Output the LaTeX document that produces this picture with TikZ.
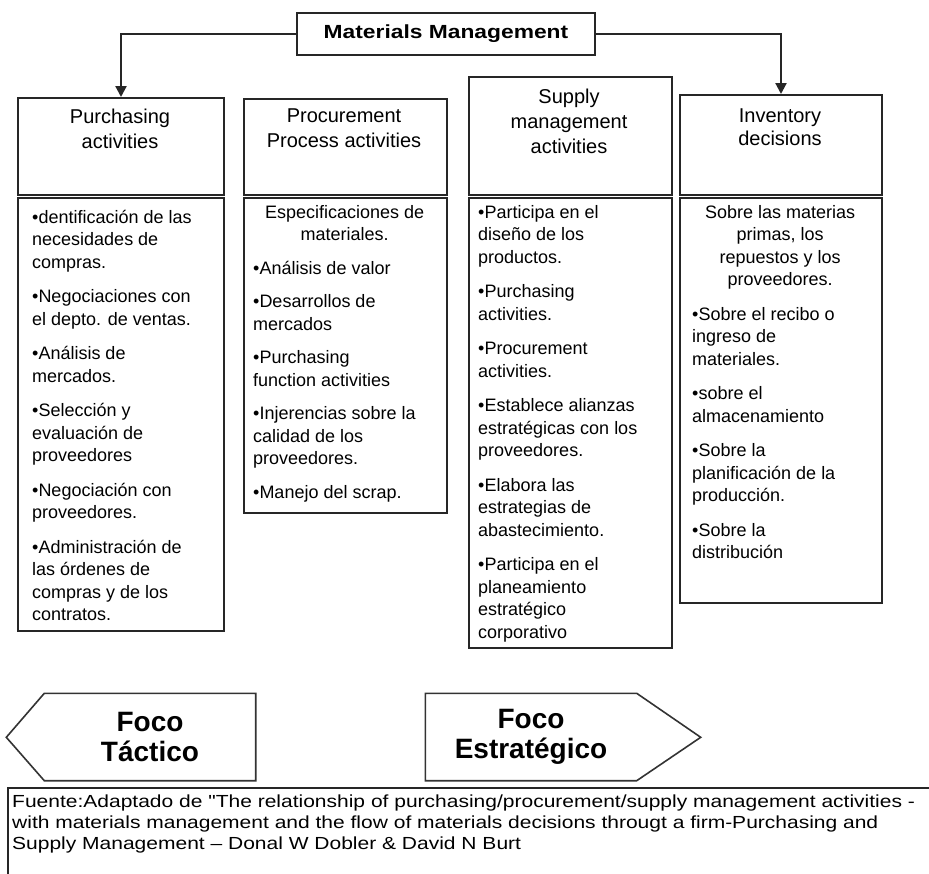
\documentclass[tikz,border=0pt]{standalone}
\usepackage{fontspec}
\setmainfont{Liberation Sans}
\newfontfamily\widefont{Liberation Sans}[FakeStretch=1.2]
\usetikzlibrary{arrows.meta}

\begin{document}
\begin{tikzpicture}[x=1pt,y=-1pt]
\tikzstyle{every node}=[font=\fontsize{18}{22.5}\selectfont, inner sep=0pt]
\tikzstyle{box}=[draw=black!85, line width=2pt, rectangle, anchor=north west]
\tikzstyle{head}=[anchor=north, align=center, font=\fontsize{20}{25}\selectfont]
\tikzstyle{body}=[anchor=north west, align=left]
\tikzstyle{link}=[draw=black!85, line width=2.2pt, -{Triangle[length=11pt,width=11pt]}]
\tikzstyle{focus}=[minimum width=211pt, minimum height=87pt, align=center, font=\fontsize{28}{30}\bfseries\selectfont]
\tikzstyle{focusline}=[draw=black!80, line width=1.6pt, line join=miter]

\useasboundingbox (0,0) rectangle (929,873);
\clip (0,0) rectangle (929,873);

\node[box, minimum width=298pt, minimum height=42pt, font=\widefont\fontsize{19}{24}\bfseries\selectfont] (mm) at (296,12) {Materials Management};

\node[box, minimum width=206pt, minimum height=97pt] (purchHead) at (17,97) {};
\node[box, minimum width=203pt, minimum height=96pt] (procHead) at (243,98) {};
\node[box, minimum width=203pt, minimum height=118pt] (supplyHead) at (468,76) {};
\node[box, minimum width=202pt, minimum height=100pt] (invHead) at (679,94) {};

\node[head] (purchTitle) at (120,109) {Purchasing\\activities};
\node[head] (procTitle) at (344,109) {Procurement\\Process activities};
\node[head] (supplyTitle) at (569,89) {Supply\\management\\activities};
\node[head, font=\fontsize{20}{22.5}\selectfont] (invTitle) at (780,109) {Inventory\\decisions};

\node[box, minimum width=206pt, minimum height=433pt] (purchBox) at (17,197) {};
\node[box, minimum width=203pt, minimum height=315pt] (procBox) at (243,197) {};
\node[box, minimum width=203pt, minimum height=450pt] (supplyBox) at (468,197) {};
\node[box, minimum width=202pt, minimum height=405pt] (invBox) at (679,197) {};

\node[body] (purchText) at (32,210) {%
•dentificación de las\\
necesidades de\\
compras.\\[12pt]
•Negociaciones con\\
el depto. de ventas.\\[12pt]
•Análisis de\\
mercados.\\[12pt]
•Selección y\\
evaluación de\\
proveedores\\[12pt]
•Negociación con\\
proveedores.\\[12pt]
•Administración de\\
las órdenes de\\
compras y de los\\
contratos.};

\node[body] (procText) at (253,205) {%
\makebox[183pt]{Especificaciones de}\\
\makebox[183pt]{materiales.}\\[11pt]
•Análisis de valor\\[11pt]
•Desarrollos de\\
mercados\\[11pt]
•Purchasing\\
function activities\\[11pt]
•Injerencias sobre la\\
calidad de los\\
proveedores.\\[11pt]
•Manejo del scrap.};

\node[body] (supplyText) at (478,205) {%
•Participa en el\\
diseño de los\\
productos.\\[12pt]
•Purchasing\\
activities.\\[12pt]
•Procurement\\
activities.\\[12pt]
•Establece alianzas\\
estratégicas con los\\
proveedores.\\[12pt]
•Elabora las\\
estrategias de\\
abastecimiento.\\[12pt]
•Participa en el\\
planeamiento\\
estratégico\\
corporativo};

\node[body] (invText) at (692,205) {%
\makebox[176pt]{Sobre las materias}\\
\makebox[176pt]{primas, los}\\
\makebox[176pt]{repuestos y los}\\
\makebox[176pt]{proveedores.}\\[12pt]
•Sobre el recibo o\\
ingreso de\\
materiales.\\[12pt]
•sobre el\\
almacenamiento\\[12pt]
•Sobre la\\
planificación de la\\
producción.\\[12pt]
•Sobre la\\
distribución};

\draw[link] (mm.west) -| (purchHead.north);
\draw[link] (mm.east) -| (invHead.north);

\node[focus] (tactic) at (150,737) {Foco\\Táctico};
\draw[focusline] (tactic.north east) -- (tactic.north west) -- ++(-38,44) -- (tactic.south west) -- (tactic.south east) -- cycle;

\node[focus] (strategic) at (531,737) {Foco\\Estratégico};
\draw[focusline] (strategic.north west) -- (strategic.north east) -- ++(64,44) -- (strategic.south east) -- (strategic.south west) -- cycle;

\node[box, minimum width=940pt, minimum height=100pt] (sourceBox) at (7,787) {};
\node[body, font=\widefont\fontsize{17.5}{21}\selectfont] (sourceText) at (12,795) {%
Fuente:Adaptado de "The relationship of purchasing/procurement/supply management activities -\\
with materials management and the flow of materials decisions througt a firm-Purchasing and\\
Supply Management – Donal W Dobler \& David N Burt};

\end{tikzpicture}
\end{document}
